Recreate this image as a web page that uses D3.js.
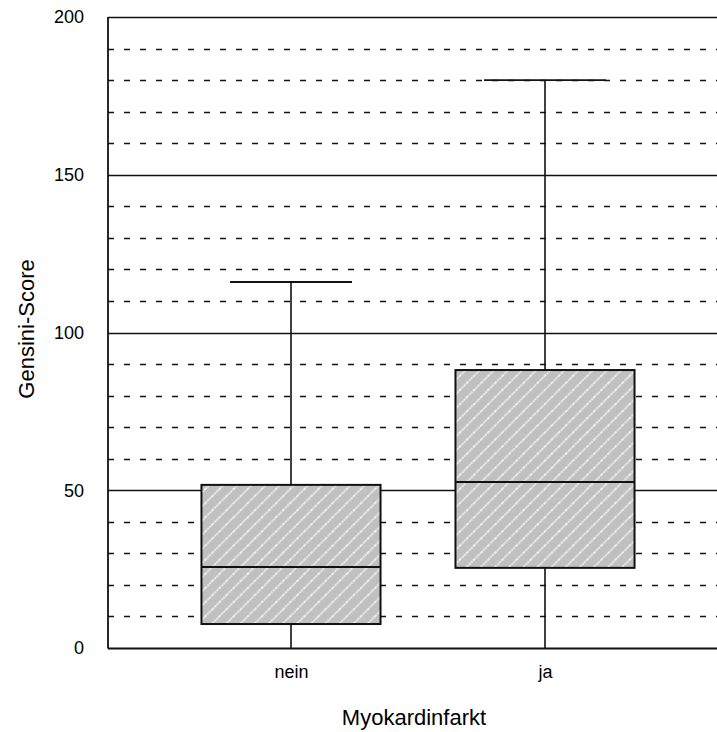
<!DOCTYPE html>
<html><head><meta charset="utf-8">
<script src="https://cdn.jsdelivr.net/npm/d3@7"></script>
<style>body{margin:0;background:#fff}svg{display:block}text{font-family:Arial,"Liberation Sans",sans-serif;fill:#000}</style>
</head><body>
<svg id="c" width="717" height="732"></svg>
<script>
const categories = ["nein", "ja"];
const whiskerLow = [0, 0];
const q1 = [7.6, 25.4];
const median = [25.7, 52.6];
const q3 = [51.7, 88.1];
const whiskerHigh = [116, 180];
const yTicks = [0, 50, 100, 150, 200];
const minorTicks = [10,20,30,40,60,70,80,90,110,120,130,140,160,170,180,190];

(function(){
const svg = d3.select("#c");
const mLeft = 108, mRight = 717, mTop = 17, mBottom = 648;
const y = d3.scaleLinear().domain([0, 200]).range([mBottom, mTop]);
const x = d3.scalePoint().domain(categories).range([291, 545]);
const step = x.step();
const boxW = step * 0.705, capW = step * 0.48;

const defs = svg.append("defs");
const pat = defs.append("pattern").attr("id","hatch").attr("patternUnits","userSpaceOnUse")
  .attr("width",10).attr("height",10).attr("patternTransform","rotate(45)");
pat.append("rect").attr("width",10).attr("height",10).attr("fill","#c0c0c0");
pat.append("line").attr("x1",1).attr("y1",0).attr("x2",1).attr("y2",10)
  .attr("stroke","#fff").attr("stroke-width",1.4).attr("stroke-dasharray","2,0.8");

svg.append("g").selectAll("line").data(minorTicks).join("line")
  .attr("x1", mLeft).attr("x2", mRight)
  .attr("y1", d => Math.round(y(d))+0.5).attr("y2", d => Math.round(y(d))+0.5)
  .attr("stroke","#111").attr("stroke-width",1.6).attr("stroke-dasharray","6,10");
svg.append("g").selectAll("line").data(yTicks.filter(d=>d>0)).join("line")
  .attr("x1", mLeft).attr("x2", mRight)
  .attr("y1", d => Math.round(y(d))+0.5).attr("y2", d => Math.round(y(d))+0.5)
  .attr("stroke","#111").attr("stroke-width",1.6);

svg.append("line").attr("x1",mLeft).attr("x2",mLeft).attr("y1",mTop).attr("y2",mBottom+0.5)
  .attr("stroke","#111").attr("stroke-width",1.8);
svg.append("line").attr("x1",mLeft).attr("x2",mRight).attr("y1",mBottom+0.5).attr("y2",mBottom+0.5)
  .attr("stroke","#111").attr("stroke-width",1.8);

const yAxis = d3.axisLeft(y).tickValues(yTicks).tickSize(0).tickPadding(0);
const ga = svg.append("g").attr("transform",`translate(${mLeft-24},0)`).call(yAxis);
ga.select(".domain").remove();
ga.attr("font-size",null).attr("font-family",null);
ga.selectAll("text").attr("font-size",18).attr("fill","#000");

const xAxis = d3.axisBottom(x).tickSize(0).tickPadding(0);
const gx = svg.append("g").attr("transform",`translate(0,${mBottom+17})`).call(xAxis);
gx.select(".domain").remove();
gx.attr("font-size",null).attr("font-family",null);
gx.selectAll("text").attr("font-size",18).attr("fill","#000");

const data = categories.map((c,i)=>({c, lo:whiskerLow[i], q1:q1[i], med:median[i], q3:q3[i], hi:whiskerHigh[i]}));
const g = svg.append("g").selectAll("g").data(data).join("g");
g.append("line").attr("x1",d=>x(d.c)).attr("x2",d=>x(d.c)).attr("y1",d=>y(d.lo)).attr("y2",d=>y(d.hi))
  .attr("stroke","#111").attr("stroke-width",1.6);
g.append("line").attr("x1",d=>x(d.c)-capW/2).attr("x2",d=>x(d.c)+capW/2)
  .attr("y1",d=>y(d.hi)).attr("y2",d=>y(d.hi)).attr("stroke","#111").attr("stroke-width",1.8);
g.append("rect").attr("x",d=>x(d.c)-boxW/2).attr("width",boxW)
  .attr("y",d=>y(d.q3)).attr("height",d=>y(d.q1)-y(d.q3))
  .attr("fill","url(#hatch)").attr("stroke","#111").attr("stroke-width",2);
g.append("line").attr("x1",d=>x(d.c)-boxW/2).attr("x2",d=>x(d.c)+boxW/2)
  .attr("y1",d=>y(d.med)).attr("y2",d=>y(d.med)).attr("stroke","#111").attr("stroke-width",2);

svg.append("text").attr("x",414).attr("y",725).attr("text-anchor","middle").attr("font-size",22).text("Myokardinfarkt");
svg.append("text").attr("transform","translate(34,329) rotate(-90)").attr("text-anchor","middle").attr("font-size",22).text("Gensini-Score");
})();
</script>
</body></html>
